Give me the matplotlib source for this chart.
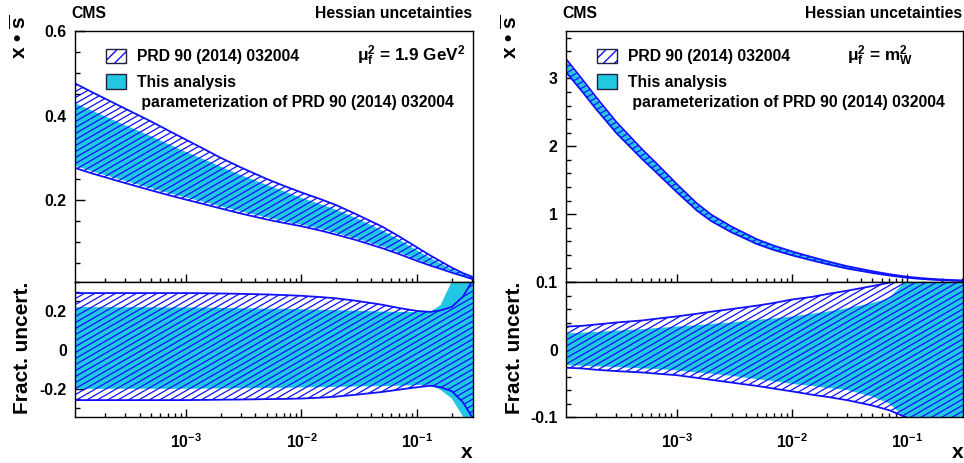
import numpy as np
import matplotlib
matplotlib.use('Agg')
import matplotlib.pyplot as plt
from matplotlib.collections import LineCollection
from matplotlib.patches import Polygon, Rectangle
from matplotlib.ticker import MultipleLocator, LogLocator, FuncFormatter

plt.rcParams['font.family'] = 'Liberation Sans'
plt.rcParams['font.weight'] = 'bold'
plt.rcParams['mathtext.fontset'] = 'custom'
plt.rcParams['mathtext.rm'] = 'Liberation Sans:bold'
plt.rcParams['mathtext.bf'] = 'Liberation Sans:bold'
plt.rcParams['mathtext.it'] = 'Liberation Sans:bold'
plt.rcParams['mathtext.sf'] = 'Liberation Sans:bold'
plt.rcParams['mathtext.default'] = 'bf'
plt.rcParams['axes.unicode_minus'] = False
plt.rcParams['hatch.linewidth'] = 1.0

# ---- data ----
x_pts = [1.1e-4, 1.5e-4, 2e-4, 3e-4, 5e-4, 7e-4, 1e-3, 1.5e-3, 2e-3, 3e-3, 5e-3, 7e-3,
         1e-2, 1.5e-2, 2e-2, 3e-2, 5e-2, 7e-2, 0.1, 0.13, 0.16, 0.2, 0.25, 0.31]

# left, mu_f^2 = 1.9 GeV^2
tl_prd_hi = [0.476, 0.457, 0.440, 0.416, 0.386, 0.365, 0.343, 0.318, 0.300, 0.277, 0.250, 0.234,
             0.218, 0.201, 0.188, 0.166, 0.137, 0.114, 0.088, 0.069, 0.055, 0.040, 0.027, 0.017]
tl_new_hi = [0.429, 0.413, 0.398, 0.377, 0.351, 0.333, 0.314, 0.294, 0.279, 0.259, 0.236, 0.221,
             0.205, 0.189, 0.177, 0.157, 0.128, 0.106, 0.081, 0.063, 0.050, 0.036, 0.025, 0.016]
tl_prd_lo = [0.276, 0.264, 0.254, 0.240, 0.223, 0.212, 0.201, 0.189, 0.180, 0.168, 0.154, 0.146,
             0.138, 0.127, 0.118, 0.105, 0.086, 0.072, 0.056, 0.045, 0.037, 0.028, 0.020, 0.012]
tl_new_lo = [0.281, 0.269, 0.259, 0.245, 0.228, 0.217, 0.206, 0.194, 0.185, 0.173, 0.159, 0.150,
             0.142, 0.131, 0.122, 0.109, 0.090, 0.076, 0.059, 0.048, 0.039, 0.030, 0.021, 0.013]

bl_prd_hi = [0.293, 0.293, 0.293, 0.293, 0.293, 0.293, 0.293, 0.292, 0.291, 0.289, 0.286, 0.283,
             0.279, 0.272, 0.266, 0.253, 0.233, 0.216, 0.201, 0.196, 0.204, 0.222, 0.275, 0.37]
bl_new_hi = [0.221, 0.221, 0.220, 0.220, 0.220, 0.219, 0.219, 0.218, 0.217, 0.215, 0.213, 0.212,
             0.210, 0.207, 0.205, 0.202, 0.198, 0.196, 0.195, 0.196, 0.232, 0.353, 0.55, 0.8]
bl_prd_lo = [-0.258, -0.258, -0.258, -0.258, -0.258, -0.258, -0.258, -0.257, -0.256, -0.255, -0.253, -0.252,
             -0.250, -0.245, -0.240, -0.230, -0.216, -0.204, -0.192, -0.184, -0.192, -0.212, -0.27, -0.36]
bl_new_lo = [-0.200, -0.200, -0.200, -0.200, -0.200, -0.200, -0.200, -0.199, -0.198, -0.197, -0.196, -0.195,
             -0.193, -0.191, -0.190, -0.188, -0.186, -0.184, -0.181, -0.180, -0.206, -0.25, -0.343, -0.5]

# right, mu_f^2 = m_W^2
tr_central = [3.18, 2.90, 2.63, 2.27, 1.88, 1.64, 1.38, 1.10, 0.94, 0.77, 0.59, 0.50,
              0.42, 0.34, 0.285, 0.215, 0.145, 0.105, 0.07, 0.052, 0.041, 0.031, 0.024, 0.019]

br_prd_hi = [0.034, 0.035, 0.037, 0.040, 0.043, 0.046, 0.049, 0.053, 0.056, 0.060, 0.065, 0.069,
             0.074, 0.078, 0.082, 0.087, 0.094, 0.099, 0.104, 0.12, 0.14, 0.16, 0.18, 0.2]
br_new_hi = [0.024, 0.025, 0.026, 0.028, 0.030, 0.032, 0.034, 0.036, 0.038, 0.040, 0.044, 0.046,
             0.049, 0.053, 0.056, 0.061, 0.069, 0.076, 0.104, 0.14, 0.17, 0.2, 0.23, 0.26]
br_prd_lo = [-0.027, -0.028, -0.030, -0.032, -0.034, -0.036, -0.038, -0.042, -0.045, -0.049, -0.054, -0.058,
             -0.062, -0.067, -0.070, -0.075, -0.083, -0.090, -0.101, -0.115, -0.13, -0.15, -0.17, -0.2]
br_new_lo = [-0.023, -0.024, -0.025, -0.026, -0.028, -0.029, -0.031, -0.034, -0.036, -0.039, -0.044, -0.047,
             -0.051, -0.054, -0.057, -0.060, -0.070, -0.080, -0.104, -0.13, -0.15, -0.17, -0.2, -0.23]

legend_labels = ['PRD 90 (2014) 032004', 'This analysis', ' parameterization of PRD 90 (2014) 032004']
scale_labels = [r'$μ_{f}^{2}$ = 1.9 GeV$^{2}$', r'$μ_{f}^{2}$ = m$_{W}^{2}$']

XMIN, XMAX = 1.1e-4, 0.305
BLUE = '#1010ff'
CYAN = '#22c8e2'
FS = 11.3
W, H = 964, 463


def place(l, t, r, b):
    return [l / W, 1 - b / H, (r - l) / W, (b - t) / H]


def band(ax, lo, hi, fill=None, hatch=False, edges=False):
    x = np.array(x_pts)
    lo = np.asarray(lo)
    hi = np.asarray(hi)
    if fill:
        ax.fill_between(x, lo, hi, facecolor=fill, edgecolor='none', lw=0, zorder=2)
    if hatch:
        # ROOT-like hatch: thin lines at 30 degrees clipped to the band
        verts = np.column_stack([np.r_[x, x[::-1]], np.r_[lo, hi[::-1]]])
        clip = Polygon(verts, closed=True, transform=ax.transData)
        bb = ax.get_window_extent()
        w, h = bb.width, bb.height
        t = np.tan(np.radians(30))
        segs = [[(0, b / h), (1, (b + t * w) / h)] for b in np.arange(-t * w, h, 6.0)]
        lc = LineCollection(segs, colors=BLUE, linewidths=0.9, transform=ax.transAxes, zorder=3)
        ax.add_collection(lc, autolim=False)
        lc.set_clip_path(clip)
        lc.set_clip_box(ax.bbox)
    if edges:
        ax.plot(x, hi, color=BLUE, lw=1.3, zorder=4)
        ax.plot(x, lo, color=BLUE, lw=1.3, zorder=4)


def style(ax, ylim, major, minor, xlabels, hide_zero=False):
    ax.set_xscale('log')
    ax.set_xlim(XMIN, XMAX)
    ax.set_ylim(*ylim)
    ax.yaxis.set_major_locator(MultipleLocator(major))
    ax.yaxis.set_minor_locator(MultipleLocator(minor))
    ax.yaxis.set_major_formatter(FuncFormatter(
        lambda v, p: '' if (hide_zero and abs(v) < 1e-9) else ('0' if abs(v) < 1e-9 else '%g' % v)))
    ax.xaxis.set_major_locator(LogLocator(base=10))
    ax.xaxis.set_minor_locator(LogLocator(base=10, subs=np.arange(2, 10)))
    ax.xaxis.set_major_formatter(FuncFormatter(lambda v, p: r'$10^{%d}$' % round(np.log10(v))))
    ax.xaxis.set_minor_formatter(FuncFormatter(lambda v, p: ''))
    ax.tick_params(axis='y', which='major', direction='in', length=7.2, width=1, pad=6, labelsize=FS)
    ax.tick_params(axis='y', which='minor', direction='in', length=3.6, width=1)
    ax.tick_params(axis='x', which='major', direction='in', length=5.8, width=1, pad=11, labelsize=FS,
                   labelbottom=xlabels)
    ax.tick_params(axis='x', which='minor', direction='in', length=2.9, width=1)
    ax.tick_params(top=False, right=False, which='both')
    for s in ax.spines.values():
        s.set_linewidth(1.0)
        s.set_zorder(10)


fig = plt.figure(figsize=(9.64, 4.63), dpi=100)

ax_tl = fig.add_axes(place(75, 31, 473, 282))
ax_bl = fig.add_axes(place(75, 282, 473, 417))
ax_tr = fig.add_axes(place(566, 31, 963, 282))
ax_br = fig.add_axes(place(566, 282, 963, 417))

style(ax_tl, (0.006, 0.6), 0.2, 0.05, False)
style(ax_bl, (-0.345, 0.35), 0.2, 0.05, True)
style(ax_tr, (0.0, 3.7), 1, 0.2, False, hide_zero=True)
style(ax_br, (-0.1, 0.1), 0.1, 0.02, True)

# left panels
band(ax_tl, tl_new_lo, tl_new_hi, fill=CYAN)
band(ax_tl, tl_prd_lo, tl_prd_hi, hatch=True, edges=True)
band(ax_bl, bl_new_lo, bl_new_hi, fill=CYAN)
band(ax_bl, bl_prd_lo, bl_prd_hi, hatch=True, edges=True)

# right panels: bands from central value and fractional uncertainties
c = np.array(tr_central)
band(ax_tr, c * (1 + np.array(br_new_lo)), c * (1 + np.array(br_new_hi)), fill=CYAN)
band(ax_tr, c * (1 + np.array(br_prd_lo)), c * (1 + np.array(br_prd_hi)), hatch=True, edges=True)
band(ax_br, br_new_lo, br_new_hi, fill=CYAN)
band(ax_br, br_prd_lo, br_prd_hi, hatch=True, edges=True)


def txt(px, py, s, **kw):
    kw.setdefault('fontsize', FS)
    kw.setdefault('fontweight', 'bold')
    return fig.text(px / W, 1 - py / H, s, **kw)


for off, frame_r, lab_x, scale in [(0, 472, 23, scale_labels[0]), (491, 962, 514, scale_labels[1])]:
    txt(71 + off, 18.5, 'CMS', va='baseline')
    txt(frame_r, 18.5, 'Hessian uncetainties', ha='right', va='baseline')
    # y titles
    txt(lab_x - 3, 15, r'x • $\overline{\rm s}$', rotation=90, ha='center', va='top', fontsize=15)
    txt(lab_x, 348, 'Fract. uncert.', rotation=90, ha='center', va='center', fontsize=15)
    txt(467 + off, 452, 'x', ha='center', va='center', fontsize=15)
    # legend
    bx = 106 + off
    fig.patches.append(Rectangle((bx / W, 1 - 63 / H), 20 / W, 14 / H, transform=fig.transFigure,
                                 facecolor='white', edgecolor=BLUE, hatch='///', lw=0))
    fig.patches.append(Rectangle((bx / W, 1 - 63 / H), 20 / W, 14 / H, transform=fig.transFigure,
                                 facecolor='none', edgecolor='#202040', lw=1))
    fig.patches.append(Rectangle((bx / W, 1 - 89 / H), 20 / W, 15 / H, transform=fig.transFigure,
                                 facecolor=CYAN, edgecolor='#202040', lw=1))
    txt(137 + off, 61.5, legend_labels[0], va='baseline')
    txt(137 + off, 86.7, legend_labels[1], va='baseline')
    txt(137 + off, 106.5, legend_labels[2], va='baseline')
    txt((357 if off == 0 else 847), 61, scale, va='baseline', fontsize=FS + 1)

fig.savefig('out.png', dpi=100)
